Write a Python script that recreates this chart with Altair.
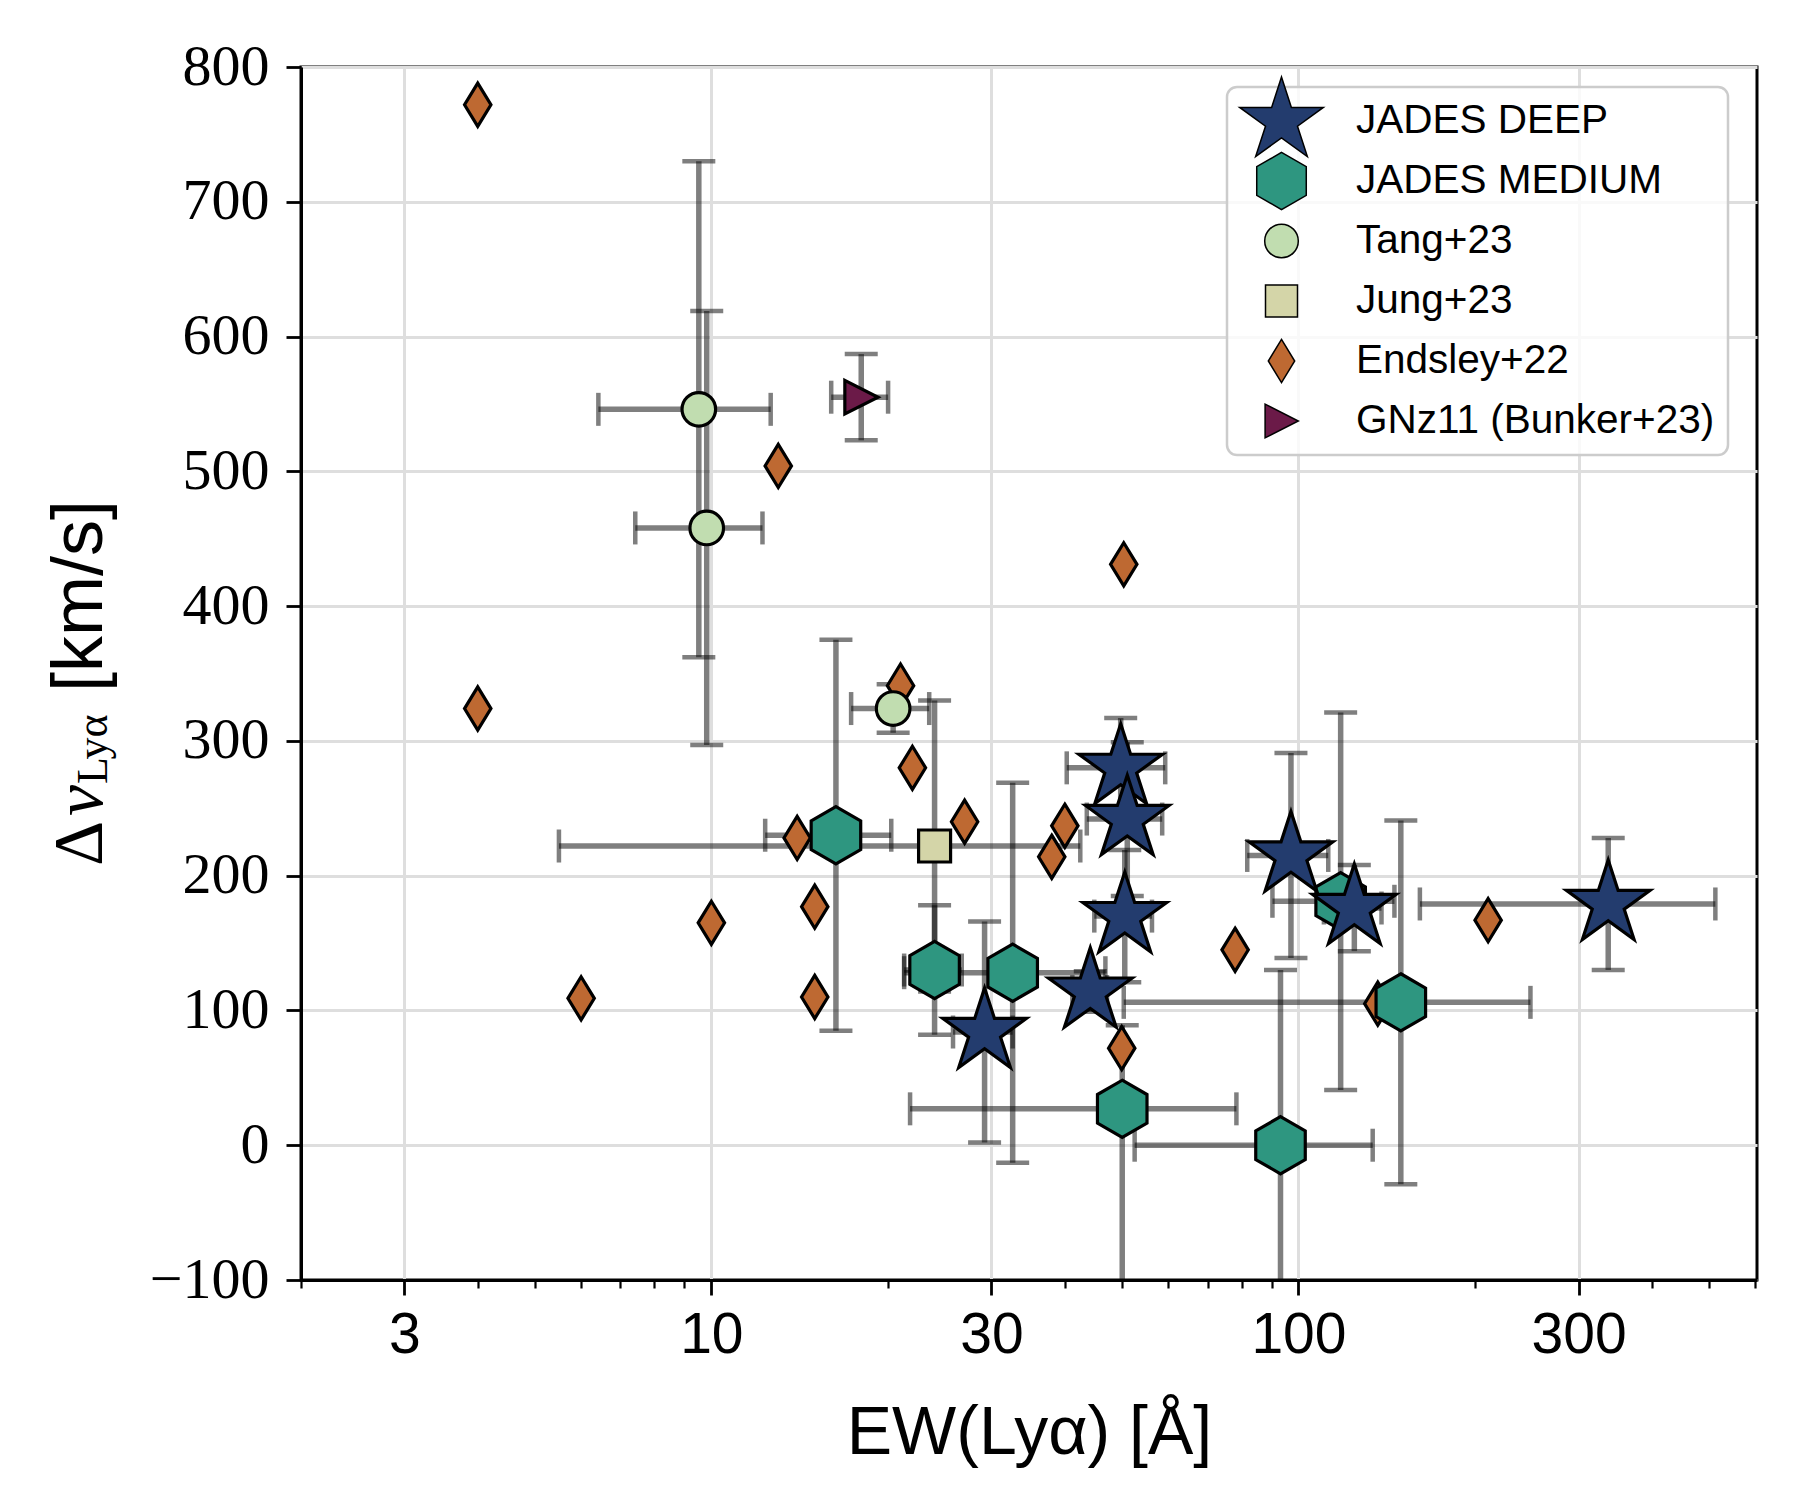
import math
import altair as alt
import pandas as pd

# ---------------- data ----------------
SERIES = ["JADES DEEP", "JADES MEDIUM", "Tang+23", "Jung+23", "Endsley+22", "GNz11 (Bunker+23)"]
COLORS = ["#233c6e", "#2e9680", "#c1ddb0", "#d4d5a8", "#be6932", "#6b1a48"]
ZORDER = {"Endsley+22": 0, "Tang+23": 1, "Jung+23": 2, "GNz11 (Bunker+23)": 3,
          "JADES MEDIUM": 4, "JADES DEEP": 5}

deep_ew = [49.8, 51.1, 50.6, 44.2, 29.2, 97.1, 124.5, 337.0]
deep_dv = [280, 242, 170, 114, 84, 215, 176, 179]
deep_ew_lo = [9.5, 7.5, 5.7, 3.0, 3.4, 15.3, 14.0, 176.0]
deep_ew_hi = [9.5, 7.5, 5.7, 3.0, 3.4, 15.3, 14.0, 176.0]
deep_dv_lo = [37, 57, 49, 15, 82, 76, 32, 49]
deep_dv_hi = [37, 57, 49, 15, 82, 76, 32, 49]

med_ew = [16.3, 24.0, 32.6, 50.1, 93.2, 118.0, 149.4]
med_dv = [230, 130, 128, 27, 0, 181, 106]
med_ew_lo = [3.95, 2.7, 11.3, 28.3, 40.6, 27.7, 99.0]
med_ew_hi = [3.95, 2.7, 14.3, 28.3, 40.6, 27.7, 99.0]
med_dv_lo = [145, 48, 141, 200, 130, 140, 135]
med_dv_hi = [145, 48, 141, 62, 130, 140, 135]

tang_ew = [9.52, 9.82, 20.4]
tang_dv = [546, 458, 324]
tang_ew_err = [3.1, 2.4, 3.1]
tang_dv_err = [184, 161, 18]

jung_ew = [24.0]
jung_dv = [222]
jung_ew_err = [18.5]
jung_dv_err = [108]

gnz11_ew = [18.0]
gnz11_dv = [555]
gnz11_ew_err = [2.0]
gnz11_dv_err = [32]

endsley_ew = [4.0, 4.0, 6.0, 10.0, 13.0, 14.0, 15.0, 15.0, 21.0, 22.0, 27.0,
              38.0, 40.0, 50.4, 50.0, 78.0, 136.5, 210.4]
endsley_dv = [772, 324, 109, 165, 504, 228, 177, 110, 341, 280, 240,
              214, 237, 431, 72, 145, 105, 167]

X_TICKS = [3, 10, 30, 100, 300]
X_MINOR = [2, 4, 5, 6, 7, 8, 9, 20, 40, 50, 60, 70, 80, 90, 200, 400, 500, 600]
Y_TICKS = list(range(-100, 801, 100))

# ---------------- tables ----------------
pts, errs = [], []


def add(series, ew, dv, exlo=None, exhi=None, eylo=None, eyhi=None):
    for i in range(len(ew)):
        pts.append({"series": series, "ew": ew[i], "dv": dv[i], "z": ZORDER[series]})
        if exlo is not None:
            errs.append({"series": series, "ew": ew[i], "dv": dv[i],
                         "ew0": ew[i] - exlo[i], "ew1": ew[i] + exhi[i],
                         "dv0": dv[i] - eylo[i], "dv1": dv[i] + eyhi[i]})


add("Endsley+22", endsley_ew, endsley_dv)
add("Tang+23", tang_ew, tang_dv, tang_ew_err, tang_ew_err, tang_dv_err, tang_dv_err)
add("Jung+23", jung_ew, jung_dv, jung_ew_err, jung_ew_err, jung_dv_err, jung_dv_err)
add("GNz11 (Bunker+23)", gnz11_ew, gnz11_dv, gnz11_ew_err, gnz11_ew_err, gnz11_dv_err, gnz11_dv_err)
add("JADES MEDIUM", med_ew, med_dv, med_ew_lo, med_ew_hi, med_dv_lo, med_dv_hi)
add("JADES DEEP", deep_ew, deep_dv, deep_ew_lo, deep_ew_hi, deep_dv_lo, deep_dv_hi)

pts_df = pd.DataFrame(pts)
err_df = pd.DataFrame(errs)

ycaps = pd.DataFrame(
    [{"ew": r["ew"], "dv": r["dv0"]} for r in errs] + [{"ew": r["ew"], "dv": r["dv1"]} for r in errs])
xcaps = pd.DataFrame(
    [{"ew": r["ew0"], "dv": r["dv"]} for r in errs] + [{"ew": r["ew1"], "dv": r["dv"]} for r in errs])


# ---------------- marker shapes (SVG paths, unit = 20 px at size 1600) ----------------
# bare move-to points give every legend symbol the same vertical bounds so the
# legend rows are evenly spaced; they draw nothing.
BOUND = "M0,-2.15M0,1.8"
BOUND_LAST = "M0,-2.15"


def poly(p, bound=BOUND):
    return bound + "M" + "L".join(f"{x:.4f},{y:.4f}" for x, y in p) + "Z"


def ring(n, r_out, r_in=None, start=-90):
    m = n * (2 if r_in else 1)
    out = []
    for k in range(m):
        r = r_out if (r_in is None or k % 2 == 0) else r_in
        a = math.radians(start + 360 / m * k)
        out.append((r * math.cos(a), r * math.sin(a)))
    return out


STAR = poly(ring(5, 2.2, 2.2 * 0.381966))
HEXAGON = poly(ring(6, 1.43))
CIRCLE = BOUND + "M0.84,0A0.84,0.84,0,1,1,-0.84,0A0.84,0.84,0,1,1,0.84,0Z"
SQUARE = poly([(-0.8, -0.8), (0.8, -0.8), (0.8, 0.8), (-0.8, 0.8)])
THIN_DIAMOND = poly([(0, -1.08), (0.66, 0), (0, 1.08), (-0.66, 0)])
TRI_RIGHT = poly([(-0.82, -0.84), (0.84, 0), (-0.82, 0.84)], BOUND_LAST)
SHAPES = [STAR, HEXAGON, CIRCLE, SQUARE, THIN_DIAMOND, TRI_RIGHT]

# ---------------- scales & axes ----------------
W, H = 1456, 1213
xscale = alt.Scale(type="log", domain=[2, 604], nice=False)
yscale = alt.Scale(domain=[-100, 800], nice=False, zero=False)

SANS = "Liberation Sans"
SERIF = "Liberation Serif"

x_axis = alt.Axis(values=X_TICKS, format="d", title="EW(Lyα) [Å]", orient="bottom",
                  labelFont=SANS, labelFontSize=57, labelBaseline="alphabetic",
                  labelPadding=57, tickSize=15, grid=True,
                  titleFont=SANS, titleFontSize=68, titleFontWeight="normal",
                  titleBaseline="alphabetic", titleY=173, labelFlush=False)
x_minor = alt.Axis(values=X_MINOR, labels=False, title=None, orient="bottom", grid=False,
                   domain=False, tickSize=8, tickWidth=2.2)
y_axis = alt.Axis(values=Y_TICKS, format="d", title=None, labelFont=SERIF, labelFontSize=58,
                  tickSize=15, labelPadding=17, grid=True, labelFlush=False)

ERR = dict(color="black", opacity=0.5, clip=True)

vrules = alt.Chart(err_df).mark_rule(strokeWidth=5.5, **ERR).encode(
    x=alt.X("ew:Q", scale=xscale, axis=x_minor),
    y=alt.Y("dv0:Q", scale=yscale, axis=y_axis),
    y2="dv1:Q",
)
hrules = alt.Chart(err_df).mark_rule(strokeWidth=5.5, **ERR).encode(
    x=alt.X("ew0:Q", scale=xscale, axis=None),
    x2="ew1:Q",
    y=alt.Y("dv:Q", scale=yscale, axis=y_axis),
)
ycap = alt.Chart(ycaps).mark_tick(orient="horizontal", size=33, thickness=4.5, **ERR).encode(
    x=alt.X("ew:Q", scale=xscale, axis=None),
    y=alt.Y("dv:Q", scale=yscale, axis=y_axis),
)
xcap = alt.Chart(xcaps).mark_tick(orient="vertical", size=33, thickness=4.5, **ERR).encode(
    x=alt.X("ew:Q", scale=xscale, axis=None),
    y=alt.Y("dv:Q", scale=yscale, axis=y_axis),
)

leg = alt.Legend(title=None, orient="none", legendX=926, legendY=20, direction="vertical")
points = alt.Chart(pts_df).mark_point(
    filled=True, opacity=1, size=1600, stroke="black", strokeWidth=3.2, strokeJoin="miter"
).encode(
    x=alt.X("ew:Q", scale=xscale, axis=x_axis),
    y=alt.Y("dv:Q", scale=yscale, axis=y_axis),
    shape=alt.Shape("series:N", scale=alt.Scale(domain=SERIES, range=SHAPES), legend=leg),
    color=alt.Color("series:N", scale=alt.Scale(domain=SERIES, range=COLORS), legend=leg),
    order=alt.Order("z:Q"),
)


# ---------------- y-axis title: Δv_{Lyα} [km/s] ----------------
def title_piece(txt, ypos, font, size, style="normal", xpos=-199):
    return alt.Chart(pd.DataFrame({"t": [txt]})).mark_text(
        angle=270, align="left", baseline="alphabetic", font=font, fontSize=size,
        fontStyle=style, color="black"
    ).encode(x=alt.value(xpos), y=alt.value(ypos), text="t:N")


ytitle = [
    title_piece("Δ", 799, SERIF, 70),
    title_piece("v", 749, SERIF, 70, "italic"),
    title_piece("Lyα", 717, SERIF, 44, xpos=-194),
    title_piece("[km/s]", 625, SANS, 72),
]

chart = alt.layer(vrules, hrules, ycap, xcap, points, *ytitle).resolve_axis(
    x="independent"
).properties(
    width=W, height=H,
    padding={"left": 293, "top": 59, "right": 35, "bottom": 212},
    autosize=alt.AutoSizeParams(type="none"),
).configure_view(
    stroke="black", strokeWidth=3
).configure_axis(
    domainColor="black", domainWidth=3, tickColor="black", tickWidth=2.8,
    gridColor="#dedede", gridWidth=3, labelColor="black", titleColor="black",
).configure_legend(
    padding=13, rowPadding=-28.7, symbolOffset=20.5, labelOffset=53.5,
    labelFont=SANS, labelFontSize=40.5, labelColor="black", labelLimit=0,
    symbolSize=1600, symbolOpacity=1,
    fillColor="rgba(255,255,255,0.8)", strokeColor="#cccccc", strokeWidth=2.5,
    cornerRadius=10,
)

chart.save("out.html", embed_options={"renderer": "svg", "actions": False})
